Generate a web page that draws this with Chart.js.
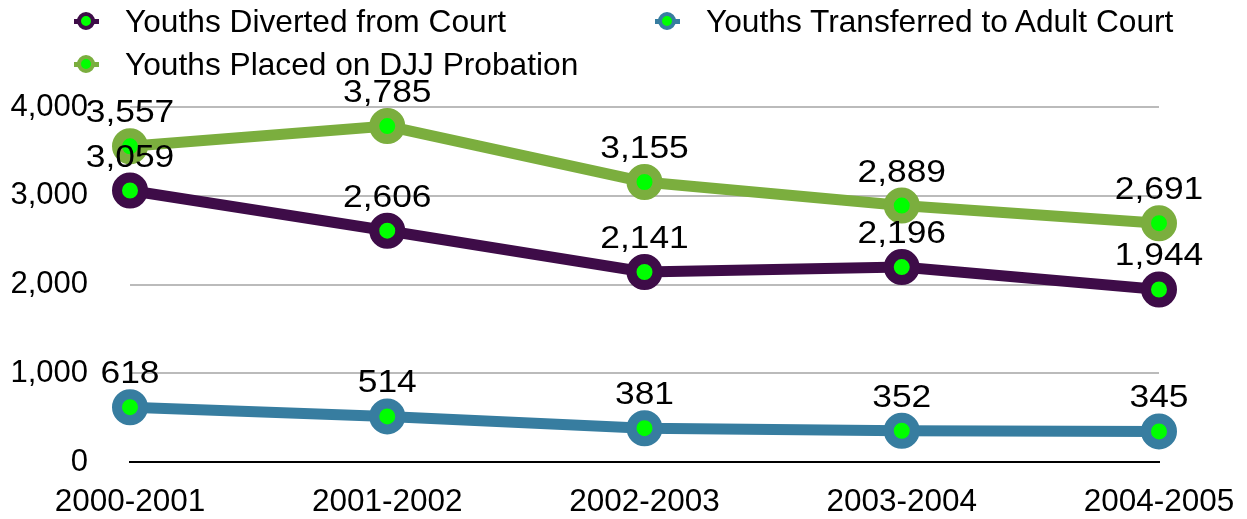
<!DOCTYPE html>
<html>
<head>
<meta charset="utf-8">
<script src="https://cdn.jsdelivr.net/npm/chart.js@4/dist/chart.umd.min.js"></script>
<style>
  body { margin: 0; background: #fff; }
  #wrap { position: relative; width: 1247px; height: 519px; }
  #legend {
    position: absolute; left: 74px; top: 0;
    display: grid; grid-template-columns: 581px auto; grid-auto-rows: 43px;
    font-family: "Liberation Sans", Arial, sans-serif; font-size: 31.7px; color: #000;
  }
  .item { display: flex; align-items: center; white-space: nowrap; }
  .mark { position: relative; width: 25px; height: 19px; margin-right: 26px; flex: none; }
  .mark .ln { position: absolute; left: 0; top: 7px; width: 25px; height: 5px; }
  .mark .dot { position: absolute; left: 3px; top: 0; width: 10px; height: 10px;
    border: 4.5px solid; border-radius: 50%; background: #00ff00; }
</style>
</head>
<body>
<div id="wrap">
  <canvas id="chart" width="1247" height="519"></canvas>
  <div id="legend"></div>
</div>
<script>
const years = ["2000-2001", "2001-2002", "2002-2003", "2003-2004", "2004-2005"];
const diverted = [3059, 2606, 2141, 2196, 1944];
const transferred = [618, 514, 381, 352, 345];
const placed = [3557, 3785, 3155, 2889, 2691];

const seriesNames = ["Youths Diverted from Court", "Youths Transferred to Adult Court", "Youths Placed on DJJ Probation"];
const seriesColors = ["#3e0c48", "#377da0", "#7bae3e"];
const dotColor = "#00ff00";

Chart.defaults.font.family = '"Liberation Sans", Arial, sans-serif';
Chart.defaults.color = "#000";

function makeSet(i, values) {
  return {
    label: seriesNames[i],
    data: values,
    borderColor: seriesColors[i],
    borderWidth: 11,
    pointRadius: 13,
    pointHoverRadius: 13,
    pointBorderWidth: 10,
    pointBorderColor: seriesColors[i],
    pointBackgroundColor: dotColor,
    tension: 0,
  };
}

// value labels above each point; the original's digits are drawn a bit wide
const valueLabels = {
  id: "valueLabels",
  afterDatasetsDraw(chart) {
    const ctx = chart.ctx;
    const stretch = 1.16;
    ctx.save();
    ctx.font = '30.5px "Liberation Sans", Arial, sans-serif';
    ctx.fillStyle = "#000";
    ctx.textAlign = "center";
    ctx.textBaseline = "alphabetic";
    chart.data.datasets.forEach((ds, di) => {
      chart.getDatasetMeta(di).data.forEach((pt, j) => {
        ctx.save();
        ctx.translate(pt.x, pt.y - 24);
        ctx.scale(stretch, 1);
        ctx.fillText(ds.data[j].toLocaleString("en-US"), 0, 0);
        ctx.restore();
      });
    });
    ctx.restore();
  },
};

const chart = new Chart(document.getElementById("chart"), {
  type: "line",
  data: {
    labels: years,
    datasets: [makeSet(0, diverted), makeSet(1, transferred), makeSet(2, placed)],
  },
  options: {
    responsive: false,
    animation: false,
    layout: { padding: { left: 10, right: 88, top: 107, bottom: 0 } },
    plugins: { legend: { display: false }, tooltip: { enabled: false } },
    scales: {
      x: {
        grid: { display: false },
        border: { display: true, color: "#000", width: 2 },
        ticks: { font: { size: 31.5 }, padding: 13, maxRotation: 0 },
        afterFit(s) {
          s.height = 57;
          s.paddingLeft = 0;
          s.paddingRight = 0;
        },
      },
      y: {
        min: 0,
        max: 4000,
        border: { display: false },
        grid: {
          drawTicks: false,
          lineWidth: 2,
          color: (c) => (c.tick && c.tick.value === 0 ? "rgba(0,0,0,0)" : "#bbbbbb"),
        },
        ticks: { stepSize: 1000, font: { size: 31 }, padding: 42 },
        afterFit(s) {
          s.width = 120;
          s.paddingTop = 0;
          s.paddingBottom = 0;
        },
      },
    },
  },
  plugins: [valueLabels],
});

// html legend, two columns like the original
const legend = document.getElementById("legend");
chart.data.datasets.forEach((ds) => {
  const item = document.createElement("div");
  item.className = "item";
  item.innerHTML = '<span class="mark"><span class="ln"></span><span class="dot"></span></span>';
  item.querySelector(".ln").style.background = ds.borderColor;
  item.querySelector(".dot").style.borderColor = ds.borderColor;
  item.appendChild(document.createTextNode(ds.label));
  legend.appendChild(item);
});
</script>
</body>
</html>
